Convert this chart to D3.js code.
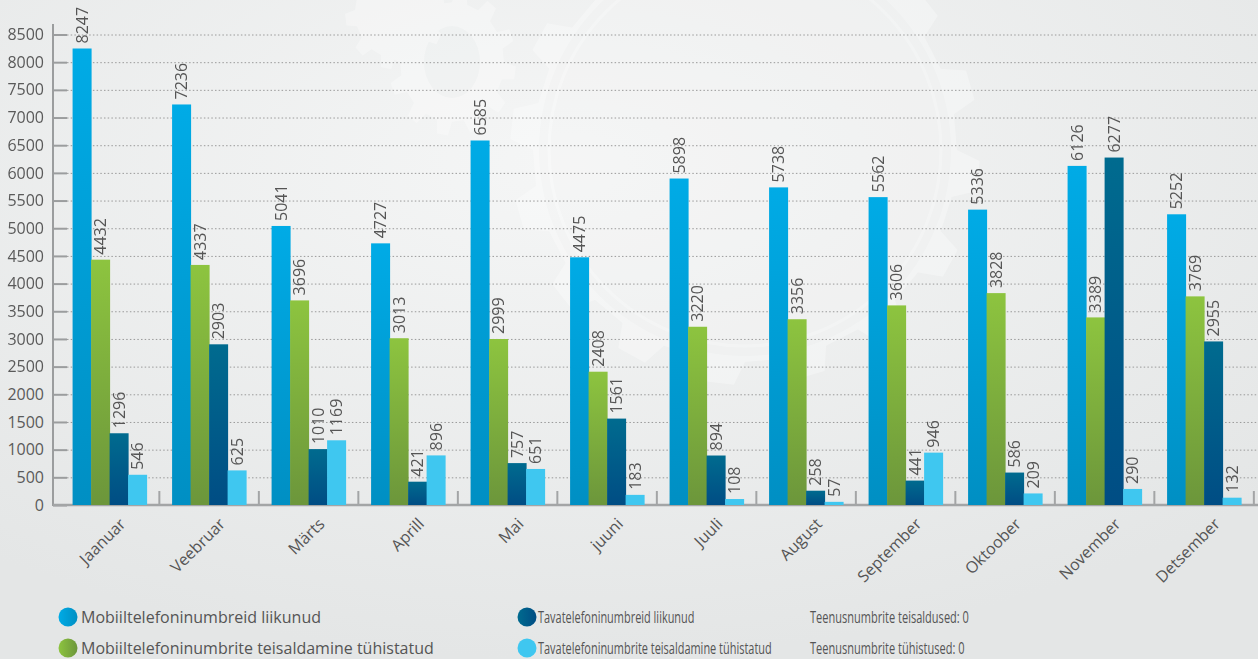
<!DOCTYPE html>
<html>
<head>
<meta charset="utf-8">
<script src="https://cdn.jsdelivr.net/npm/d3@7"></script>
<style>
  html, body { margin: 0; padding: 0; overflow: hidden; }
  body { width: 1258px; height: 659px; font-family: "Open Sans", sans-serif; }
</style>
</head>
<body>
<div id="wrapper"></div>
<script>
// data
const months = ["Jaanuar", "Veebruar", "Märts", "Aprill", "Mai", "juuni",
  "Juuli", "August", "September", "Oktoober", "November", "Detsember"]
const mobiilLiikunud = [8247, 7236, 5041, 4727, 6585, 4475, 5898, 5738, 5562, 5336, 6126, 5252]
const mobiilTyhistatud = [4432, 4337, 3696, 3013, 2999, 2408, 3220, 3356, 3606, 3828, 3389, 3769]
const tavaLiikunud = [1296, 2903, 1010, 421, 757, 1561, 894, 258, 441, 586, 6277, 2955]
const tavaTyhistatud = [546, 625, 1169, 896, 651, 183, 108, 57, 946, 209, 290, 132]
const seriesNames = [
  "Mobiiltelefoninumbreid liikunud",
  "Mobiiltelefoninumbrite teisaldamine tühistatud",
  "Tavatelefoninumbreid liikunud",
  "Tavatelefoninumbrite teisaldamine tühistatud",
]
const extraNotes = ["Teenusnumbrite teisaldused: 0", "Teenusnumbrite tühistused: 0"]
const yTicks = d3.range(0, 8501, 500)

// bar gradients: [top, bottom]
const colors = [
  ["#00abe6", "#008fc3"],
  ["#8dc43f", "#6c963b"],
  ["#006b8f", "#004d84"],
  ["#3fc7f0", "#3fc7f0"],
]

function drawChart() {
  const width = 1258
  const height = 659
  const axisX = 53
  const baseY = 505
  const topY = 34.5
  const fontSize = 16

  const allSeries = [mobiilLiikunud, mobiilTyhistatud, tavaLiikunud, tavaTyhistatud]
  const dataset = months.map((m, i) => ({
    month: m,
    values: allSeries.map((s, k) => ({ key: k, value: s[i] })),
  }))

  const svg = d3.select("#wrapper")
    .append("svg")
      .attr("width", width)
      .attr("height", height)

  const defs = svg.append("defs")
  const bg = defs.append("radialGradient")
      .attr("id", "bg")
      .attr("cx", "45%").attr("cy", "25%").attr("r", "75%")
  bg.append("stop").attr("offset", "0%").attr("stop-color", "#f5f6f6")
  bg.append("stop").attr("offset", "100%").attr("stop-color", "#e4e6e6")

  colors.forEach((c, k) => {
    const g = defs.append("linearGradient")
        .attr("id", "bar" + k)
        .attr("x1", 0).attr("y1", 0).attr("x2", 0).attr("y2", 1)
    g.append("stop").attr("offset", "0%").attr("stop-color", c[0])
    g.append("stop").attr("offset", "100%").attr("stop-color", c[1])
    const h = defs.append("linearGradient")
        .attr("id", "dot" + k)
        .attr("x1", 0).attr("y1", 0).attr("x2", 1).attr("y2", 0)
    h.append("stop").attr("offset", "0%").attr("stop-color", c[0])
    h.append("stop").attr("offset", "100%").attr("stop-color", c[1])
  })

  svg.append("rect")
      .attr("width", width)
      .attr("height", height)
      .attr("fill", "url(#bg)")

  // faint gear watermark
  const gear = (teeth, outer, inner) => {
    const pts = []
    for (let i = 0; i < teeth; i++) {
      const a = (i / teeth) * 2 * Math.PI
      const s = (2 * Math.PI) / teeth
      pts.push([a, inner], [a + s * 0.12, outer], [a + s * 0.45, outer], [a + s * 0.57, inner])
    }
    return d3.lineRadial().angle(d => d[0]).radius(d => d[1]).curve(d3.curveLinearClosed)(pts)
  }
  const marks = svg.append("g").attr("fill", "#ffffff").attr("opacity", 0.3)
  marks.append("path")
      .attr("transform", "translate(452,62) scale(1,1.15)")
      .attr("d", gear(12, 64, 52))
  marks.append("ellipse").attr("cx", 452).attr("cy", 62).attr("rx", 28).attr("ry", 36)
      .attr("fill", "#eef0f0")
  marks.append("path")
      .attr("transform", "translate(395,12) scale(1,1.15)")
      .attr("d", gear(10, 50, 40))
  marks.append("path")
      .attr("transform", "translate(745,150)")
      .attr("d", gear(16, 235, 212))
  marks.append("circle").attr("cx", 745).attr("cy", 150).attr("r", 206)
      .attr("fill", "#f4f5f5")
  marks.append("circle").attr("cx", 745).attr("cy", 150).attr("r", 196)
      .attr("fill", "none").attr("stroke", "#ffffff").attr("stroke-width", 3)

  // scales
  const yScale = d3.scaleLinear()
    .domain([0, 8500])
    .range([baseY, topY])

  const xScale = d3.scaleBand()
    .domain(months)
    .range([59.85, 1253.85])
    .paddingInner(0.256)
    .paddingOuter(0.128)

  const innerScale = d3.scaleBand()
    .domain(d3.range(4))
    .range([0, xScale.bandwidth()])

  // gridlines
  svg.append("g")
      .attr("transform", `translate(${axisX + 14},0)`)
      .call(d3.axisLeft(yScale).tickValues(yTicks.slice(1)).tickSize(-(width - axisX - 14)).tickFormat(""))
      .call(g => g.select(".domain").remove())
      .call(g => g.selectAll("line")
        .attr("stroke", "#9a9a9a")
        .attr("stroke-width", 1)
        .attr("stroke-dasharray", "1.5,2.2"))

  // y axis
  svg.append("g")
      .attr("transform", `translate(${axisX},0)`)
      .call(d3.axisLeft(yScale)
        .tickValues(yTicks)
        .tickFormat(d3.format("d"))
        .tickSizeInner(-14)
        .tickSizeOuter(0)
        .tickPadding(9))
      .call(g => g.select(".domain").remove())
      .call(g => g.selectAll("line").attr("stroke", "#9b9d9e").attr("stroke-width", 2))
      .call(g => g.selectAll("text")
        .attr("font-family", "Open Sans")
        .attr("font-size", fontSize)
        .attr("fill", "#5a5a5a"))

  svg.append("line")
      .attr("x1", axisX).attr("x2", axisX)
      .attr("y1", 24).attr("y2", baseY + 1)
      .attr("stroke", "#9b9d9e")
      .attr("stroke-width", 2)

  // baseline and group ticks
  svg.append("line")
      .attr("x1", axisX).attr("x2", width)
      .attr("y1", baseY).attr("y2", baseY)
      .attr("stroke", "#a3a5a6")
      .attr("stroke-width", 2.5)

  const gap = xScale.step() - xScale.bandwidth()
  svg.append("g")
    .selectAll("line")
    .data(months)
    .join("line")
      .attr("x1", d => xScale(d) + xScale.bandwidth() + gap / 2)
      .attr("x2", d => xScale(d) + xScale.bandwidth() + gap / 2)
      .attr("y1", baseY)
      .attr("y2", baseY - 14)
      .attr("stroke", "#a3a5a6")
      .attr("stroke-width", 2)

  // bars
  const groups = svg.append("g")
    .selectAll("g")
    .data(dataset)
    .join("g")
      .attr("transform", d => `translate(${xScale(d.month)},0)`)

  groups.selectAll("rect")
    .data(d => d.values)
    .join("rect")
      .attr("x", d => innerScale(d.key))
      .attr("width", innerScale.bandwidth() + 0.5)
      .attr("y", d => yScale(d.value))
      .attr("height", d => baseY - yScale(d.value))
      .attr("fill", d => `url(#bar${d.key})`)

  groups.selectAll("text")
    .data(d => d.values)
    .join("text")
      .attr("transform", d => `translate(${innerScale(d.key) + innerScale.bandwidth() / 2},${yScale(d.value) - 5}) rotate(-90)`)
      .attr("dy", "0.36em")
      .attr("font-family", "Open Sans")
      .attr("font-size", fontSize)
      .attr("fill", "#555555")
      .text(d => d.value)

  // month labels
  svg.append("g")
    .selectAll("text")
    .data(months)
    .join("text")
      .attr("transform", d => `translate(${xScale(d) + xScale.bandwidth() / 2 + 17},${baseY + 20}) rotate(-45)`)
      .attr("text-anchor", "end")
      .attr("font-family", "Open Sans")
      .attr("font-size", fontSize)
      .attr("fill", "#555555")
      .text(d => d)

  // legend
  const legendPos = [[68, 617], [68, 648], [527, 617], [527, 648]]
  const legend = svg.append("g")
    .selectAll("g")
    .data(seriesNames)
    .join("g")
      .attr("transform", (d, i) => `translate(${legendPos[i][0]},${legendPos[i][1]})`)

  legend.append("circle")
      .attr("r", 9.5)
      .attr("fill", (d, i) => `url(#dot${i})`)

  legend.append("text")
      .attr("transform", (d, i) => i < 2 ? "translate(13,0)" : "translate(11,0) scale(0.685,1)")
      .attr("dy", "0.35em")
      .attr("font-family", "Open Sans")
      .attr("font-size", fontSize)
      .attr("fill", "#555555")
      .text(d => d)

  svg.append("g")
    .selectAll("text")
    .data(extraNotes)
    .join("text")
      .attr("transform", (d, i) => `translate(810,${617 + i * 31}) scale(0.69,1)`)
      .attr("dy", "0.35em")
      .attr("font-family", "Open Sans")
      .attr("font-size", fontSize)
      .attr("fill", "#555555")
      .text(d => d)
}

drawChart()
</script>
</body>
</html>
